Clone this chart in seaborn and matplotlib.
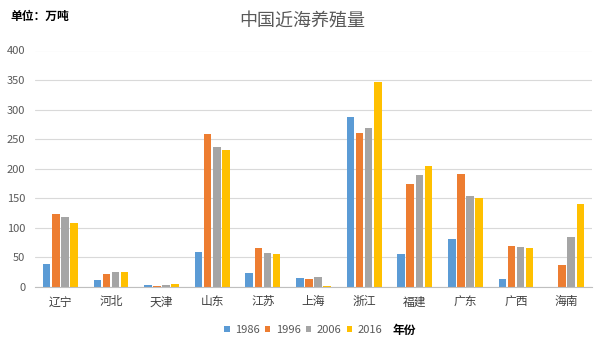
import matplotlib
matplotlib.use("Agg")
import matplotlib.pyplot as plt
import seaborn as sns
import pandas as pd
from matplotlib.patches import Patch

provinces = ["辽宁", "河北", "天津", "山东", "江苏", "上海", "浙江", "福建", "广东", "广西", "海南"]
years = ["1986", "1996", "2006", "2016"]
v1986 = [39, 11, 3.4, 60, 24, 15, 288, 55, 82, 14, 0]
v1996 = [124, 22.5, 1.7, 259, 66, 14, 261, 175, 191, 70, 38]
v2006 = [119, 26, 3.4, 237, 58, 17, 269, 190, 154, 68, 85]
v2016 = [108, 26, 5.6, 231, 55, 2.3, 347, 205, 150, 66, 141]
colors = ["#5B9BD5", "#ED7D31", "#A5A5A5", "#FFC000"]
yticks = [0, 50, 100, 150, 200, 250, 300, 350, 400]

sns.set_theme(style="white")
plt.rcParams['font.family'] = ['Noto Sans CJK SC', 'DejaVu Sans']

rows = []
for y, vals in zip(years, [v1986, v1996, v2006, v2016]):
    for p, v in zip(provinces, vals):
        rows.append({"省份": p, "年份": y, "产量": v})
df = pd.DataFrame(rows)

fig = plt.figure(figsize=(6.06, 3.48), dpi=100)
ax = fig.add_axes([35/606, (348-287)/348, 557/606, 236.5/348])
sns.barplot(data=df, x="省份", y="产量", hue="年份", palette=colors,
            width=0.72, gap=0.17, ax=ax, legend=False, saturation=1,
            linewidth=0, edgecolor="none")

ax.set_ylim(0, 400)
ax.set_xlim(-0.5, len(provinces) - 0.5)
ax.set_yticks(yticks)
ax.set_yticklabels([str(t) for t in yticks], color="#595959", fontsize=8)
ax.tick_params(axis="x", labelsize=8.5, colors="#404040", length=0, pad=6)
ax.tick_params(axis="y", length=0, pad=7)
ax.yaxis.grid(True, color="#D9D9D9", linewidth=0.8)
ax.set_axisbelow(True)
for s in ["top", "right", "left"]:
    ax.spines[s].set_visible(False)
ax.spines["bottom"].set_color("#BFBFBF")
ax.spines["bottom"].set_linewidth(0.8)
ax.set_xlabel("")
ax.set_ylabel("")

fig.text(302.5/606, 1 - 21/348, "中国近海养殖量", ha="center", va="center",
         fontsize=13, color="#595959")
fig.text(10/606, 1 - 16/348, "单位：万吨", ha="left", va="center",
         fontsize=8.5, color="black", fontweight="bold")

handles = [Patch(facecolor=c, edgecolor="none") for c in colors]
leg = fig.legend(handles, years, loc="center left", bbox_to_anchor=(224/606, 1 - 330/348),
                 ncol=4, frameon=False, fontsize=8, handlelength=0.5, handleheight=0.5,
                 handletextpad=0.5, columnspacing=0.45, labelcolor="#595959",
                 borderpad=0, borderaxespad=0)
fig.text(393/606, 1 - 330/348, "年份", ha="left", va="center", fontsize=8.5,
         color="black", fontweight="bold")

fig.savefig("out.png", dpi=100)
